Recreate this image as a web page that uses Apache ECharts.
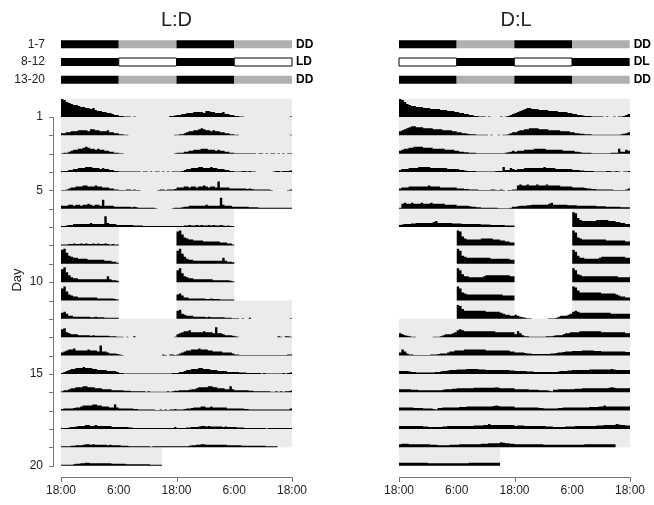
<!DOCTYPE html>
<html><head><meta charset="utf-8">
<script src="https://cdn.jsdelivr.net/npm/echarts@6/dist/echarts.min.js"></script>
<style>html,body{margin:0;padding:0;background:#fff}#c{width:654px;height:505px}</style>
</head><body><div id="c"></div>
<script>
const _ = null;
const hourTicks = [0, 12, 24, 36, 48];
const hourTickLabels = ['18:00', '6:00', '18:00', '6:00', '18:00'];
const hourMajorTicks = [0, 24, 48];
const dayTickLabels = [1, 5, 10, 15, 20];
const scheduleRowLabels = ['1-7', '8-12', '13-20'];
const scheduleCodesLD = ['DD', 'LD', 'DD'];
const scheduleCodesDL = ['DD', 'DL', 'DD'];
// 12-h blocks from 18:00: 0 = dark, 1 = subjective day in constant darkness, 2 = light
const scheduleLD = [[0, 1, 0, 1], [0, 2, 0, 2], [0, 1, 0, 1]];
const scheduleDL = [[0, 1, 0, 1], [2, 0, 2, 0], [0, 1, 0, 1]];
// shaded (dark) intervals per double-plotted row, hours after 18:00 (0-48)
const shadeLD = [
  [[0,48]],[[0,48]],[[0,48]],[[0,48]],[[0,48]],[[0,48]],
  [[0,36]],
  [[0,12],[24,36]],[[0,12],[24,36]],[[0,12],[24,36]],[[0,12],[24,36]],
  [[0,12],[24,48]],
  [[0,48]],[[0,48]],[[0,48]],[[0,48]],[[0,48]],[[0,48]],[[0,48]],
  [[0,21]]
];
const shadeDL = [
  [[0,48]],[[0,48]],[[0,48]],[[0,48]],[[0,48]],[[0,48]],
  [[0,24],[36,48]],
  [[12,24],[36,48]],[[12,24],[36,48]],[[12,24],[36,48]],[[12,24],[36,48]],[[12,24],[36,48]],
  [[0,48]],[[0,48]],[[0,48]],[[0,48]],[[0,48]],[[0,48]],[[0,48]],
  [[0,21]]
];
// activity per day: 48 half-hour bins from 18:00 (null = light phase / not recorded)
const activityLD = [
  [18,17,15,14,13,12,12,11, 10,10,9,9,8,9,7,6, 6,5,5,4,4,3,2,2, 1,1,0.5,0.5,0.5,0,0.5,0, 0,0,0,0,0,0,0,0, 0,0,0,0,0,1,1,1.5],
  [2,2,3,3,4,4,4,5, 5,5,5,4,6,6,5,5, 4,4,4,5,3,3,2,2, 1,1,0.5,0.5,0,0,0,0, 0,0,0,0,0,0,0,0, 0,0,0,0,0,0,0,0.5],
  [0.5,1,1,2,3,4,4,5, 5,6,7,6,5,5,4,5, 4,4,3,3,2,2,1,1, 0.5,0.5,0,0,0,0,0,0, 0,0,0,0,0,0,0,0, 0,0,0,0,0,0,0,0.5],
  [1,1,1,2,2,3,3,4, 4,4,5,5,5,4,4,4, 3,4,3,3,2,2,1,1, 0.5,0.5,0.5,0.5,0.5,0.5,0.5,0.5, 0.5,0,0.5,0.5,0,0.5,0,0.5, 0.5,0,0.5,0,0.5,0,0.5,0.5],
  [0.5,0.5,1,2,3,3,4,4, 4,5,5,4,4,4,5,4, 4,3,3,3,2,2,1,1, 0.5,0.5,0.5,1,1,0.5,1,0.5, 0.5,0,0,0,0,0,0,0, 0.5,1,1,0.5,1,1,1,1.5],
  [3,3,3,4,4,3,4,4, 3,4,4,5,4,3,4,4, 3,9,3,3,3,3,2,2, 2,2,2,2,2,1.5,2,1.5, 1,1,1,1,1,1,1,0.5, 0,0,0,0,0,0,0.5,1],
  [1,1,1.5,2,2,3,3,3, 3,3,3,3,4,3,3,3, 3,3,11,4,3,3,3,2, 2,2,2,2,2,2,1.5,1.5, 1.5,1.5,1,1,1,1,1,1, 1,1,1,1,1,1,1,1],
  [1,1,1,1.5,1.5,2,1.5,1.5, 2,1.5,2,1.5,1.5,2,1.5,2, 1.5,1.5,2,1.5,1,1.5,1,1, _,_,_,_,_,_,_,_, _,_,_,_,_,_,_,_, _,_,_,_,_,_,_,_],
  [14,15,11,8,7,6,6,5, 5,5,5,4,4,4,4,4, 4,4,3,3,3,2,2,1, _,_,_,_,_,_,_,_, _,_,_,_,_,_,_,_, _,_,_,_,_,_,_,_],
  [13,15,10,7,5,4,4,3, 3,3,3,3,3,3,3,3, 3,3,3,6,3,2,2,1.5, _,_,_,_,_,_,_,_, _,_,_,_,_,_,_,_, _,_,_,_,_,_,_,_],
  [12,14,9,6,5,4,4,3, 3,3,3,3,3,3,3,2, 2,2,2,2,2,2,1.5,1, _,_,_,_,_,_,_,_, _,_,_,_,_,_,_,_, _,_,_,_,_,_,_,_],
  [6,7,5,3,3,2,2,2, 2,2,2,2,1.5,1.5,2,1.5, 1.5,1.5,1,1,1,1,1,1, _,_,_,_,_,_,_,_, _,_,_,_,_,_,_,_, _,_,_,_,_,_,_,_],
  [8,9,5,4,3,3,3,2, 2,2,2,2,1.5,2,1.5,1.5, 1.5,1.5,1.5,1.5,1,1,1,0.5, 0.5,0.5,0,0.5,0,0,1,0, 0,0,0,0,0,0,0,0, 0,0,0,0,0,0,0,0.5],
  [3,4,5,6,6,7,5,5, 5,5,5,6,5,5,5,4, 10,4,4,3,2,2,2,1.5, 1,0.5,0,0,0,0,0,0, 0,0,0,0,0,0,0,0, 0,0,1,0.5,0,1,1,0.5],
  [1,2,3,4,5,5,6,6, 6,7,6,6,6,5,5,4, 4,4,4,3,3,3,3,2, 1,1,0.5,0.5,0.5,0.5,0.5,0.5, 0.5,0.5,0.5,0.5,0.5,0.5,0.5,0.5, 0.5,0.5,0.5,0.5,0.5,0.5,1,1],
  [1,2,2,3,4,4,5,5, 5,6,6,5,5,5,4,4, 4,3,3,3,3,2,2,2, 2,2,1.5,1.5,1.5,1,1,1, 1,1,1,0.5,1,0.5,0.5,0.5, 0.5,0.5,0.5,0.5,1,0.5,1,1.5],
  [1.5,2,2,2,2,2.5,3,3, 4,5,5,5,5,6,6,5, 5,4,4,4,3,3,6,3, 2,2,2,2,2,2,1.5,1.5, 1,1,1,1,1,1,1,0.5, 0.5,1,0.5,1,0.5,1,1,1.5],
  [1,1,1,1.5,2,2,2.5,3, 3,3,4,4,3,3,4,3, 3,3,3,3,3,2,2,2, 2,2,2,2,1.5,1.5,1,1, 1,1,1,1,1,1,1,1, 1,1,1,1,1,1,1,2],
  [1,1,1,1,1.5,1.5,2,2, 2,2.5,3,3,2.5,3,2.5,2.5, 2.5,2.5,2.5,2,2.5,2,2,2, 2,1.5,1.5,1.5,1,1,1,1, 1,1,1,1,1,0.5,1,1, 1,1,1,1,1,1,1,1],
  [1,1,1,1,1,1.5,2,2, 2.5,2.5,3,3,2.5,2.5,2.5,2.5, 2.5,2.5,2.5,2.5,2.5,2,2,2, 2,2,2,1.5,1.5,1.5,1.5,1.5, 1.5,1.5,1.5,1.5,1.5,1,1,1, 1,1,_,_,_,_,_,_]
];
const activityDL = [
  [18,17,15,13,12,11,11,10, 10,10,9,9,9,8,8,8, 8,7,7,7,6,6,6,5, 5,4,4,3,3,2,2,1, 1,0.5,0.5,0.5,0,0.5,0,0, 0,0,0.5,0,0.5,1,2,3],
  [4,5,6,7,8,9,9,8, 8,8,7,7,7,7,6,6, 6,6,5,5,5,5,4,4, 3,3,2,2,1.5,1,1,1, 0.5,0.5,0.5,0.5,0.5,0,0.5,0, 0,0.5,0,0.5,0.5,1,2,3],
  [3,4,5,5,6,6,7,7, 7,7,6,6,6,6,5,5, 5,5,5,4,4,4,4,3, 3,2,2,1.5,1.5,1,1,1, 0.5,0.5,0.5,0.5,0.5,0.5,0.5,0.5, 0.5,0.5,0.5,0.5,1,1.5,2,3],
  [2,3,3,3,4,4,4,4, 5,5,5,5,5,4,4,4, 4,4,4,4,3,3,3,3, 3,2,2,1.5,1,1,1,1, 0.5,0.5,0.5,0.5,0.5,0.5,0.5,0.5, 1,1,1,5,2,2,4,3],
  [2,3,3,3,4,4,4,4, 4,4,4,4,5,4,4,4, 4,3,3,3,3,3,3,3, 2,2,2,1.5,1.5,1,1,1, 1,0.5,0.5,0.5,0.5,0.5,1,1, 0.5,0.5,1,0.5,0,0.5,0.5,1],
  [1,5,6,5,5,6,5,5, 5,6,5,5,5,6,5,5, 5,5,5,4,4,4,4,4, 3,3,3,3,3,2.5,2,2, 1.5,1.5,1,1,1,1,1,1, 1,0.5,0.5,0.5,0.5,0.5,1,2],
  [2,2.5,3,3,3,3.5,3.5,4, 4,4,4,4,4,4,5,6, 4,4,4,4,4,4,3.5,3.5, 3.5,3.5,3,3,3,3,3,3, 3,3,2.5,2.5,2.5,2.5,2,2, 2,2,2,2,1.5,1.5,1.5,1.5],
  [_,_,_,_,_,_,_,_, _,_,_,_,_,_,_,_, _,_,_,_,_,_,_,_, 15,14,9,7,6,6,6,6, 6,6,7,7,7,7,7,6, 6,6,5,5,4,4,3,3],
  [_,_,_,_,_,_,_,_, _,_,_,_,_,_,_,_, _,_,_,_,_,_,_,_, 15,13,8,7,6,6,6,6, 6,6,6,6,6,6,5,5, 5,5,5,5,5,5,4,4],
  [_,_,_,_,_,_,_,_, _,_,_,_,_,_,_,_, _,_,_,_,_,_,_,_, 14,12,8,6,6,5,5,5, 5,5,5,6,7,7,7,7, 7,7,7,7,7,7,6,6],
  [_,_,_,_,_,_,_,_, _,_,_,_,_,_,_,_, _,_,_,_,_,_,_,_, 14,12,8,7,6,6,6,6, 6,6,6,6,6,6,6,6, 6,6,6,5,5,5,5,5],
  [_,_,_,_,_,_,_,_, _,_,_,_,_,_,_,_, _,_,_,_,_,_,_,_, 14,13,10,8,8,8,8,8, 8,8,8,8,7,7,7,7, 7,7,6,5,4,4,3,3],
  [4,3,2,1.5,1,0.5,0.5,0, 0,0,0,0,0,0,0.5,0.5, 0.5,1,2,3,3,3,4,5, 7,8,7,6,6,6,6,6, 6,6,6,6,6,6,6,6, 5,5,5,5,5,5,5,5],
  [3,6,4,2,1,1,0.5,0.5, 0.5,0.5,0.5,0.5,0.5,1,1,1, 1.5,2,2,2,3,4,4,5, 5,5,5,6,6,6,6,6, 6,6,6,6,5,5,5,5, 5,5,5,5,5,5,4,4],
  [3,3,3,3,2.5,2,2,1.5, 1.5,1.5,1.5,1.5,1.5,1.5,1.5,2, 2,2.5,3,3,3.5,4,4,4, 4.5,4.5,4.5,4.5,5,5,5,5, 5,4.5,4.5,4.5,4,4,4,4, 4,4,4,4,4,4,3.5,3.5],
  [3,3,3,3,3,2.5,2.5,2.5, 2,2,2,2,2,2,2,2, 2,2,2.5,3,3,3,3.5,3.5, 4,4,4,4,4,4,4,4.5, 4.5,4.5,4.5,4.5,4.5,4.5,4.5,4.5, 5,4.5,4,4,4,4,4,4],
  [3,3,3,3,3,3,2.5,2.5, 2.5,2.5,2,2,2,2,1.5,1, 2.5,2.5,3,3,3,3,3,3, 3,3.5,3.5,3.5,4,4,4,4, 4,4,4,4,4,4,4,4.5, 5,4.5,4,4,4,4,4,4],
  [3,3,3,3,3,3,3,3, 3,3,2.5,2.5,2,2,2,2, 2,2,2.5,2.5,3,3,3,3, 3,3,3,3,3,3,3,3.5, 3.5,3.5,3.5,4,4,5,4,4, 4,4,4,4,4,4,4,4],
  [3,3.5,3.5,3.5,3,3,3,3, 3,3,3,3,3,2.5,2.5,2.5, 2,2,2,2,2,2.5,2.5,2.5, 2.5,3,3,3,3,3,3,3, 3,3,3.5,3.5,3.5,4,4,4, 4,4,5,4.5,4,4,3.5,3.5],
  [3,3,3,3,3,3,3,3, 3,3,3,3,2.5,2.5,2.5,2.5, 2.5,2.5,2.5,2.5,2.5,2.5,2.5,2.5, 2.5,2.5,2.5,2.5,2.5,3,3,3, 3,3,3,3,3,3,3,3, 3,3,_,_,_,_,_,_]
];

const FONT = '"Liberation Sans", Arial, sans-serif';
const ACT = 1 / 18.4;      // activity units -> fraction of a row
const AX = '#777777';
const FIRST_DAY = 1, LAST_DAY = activityLD.length;

function bgData(shade) {
  const out = [];
  shade.forEach((segs, i) => segs.forEach(s => out.push([s[0], s[1], i + 1])));
  return out;
}
function buildRuns(act) {
  const out = [];
  for (let r = 1; r <= act.length; r++) {
    const next = r < act.length ? act[r] : act[0].map(() => null);
    const row = act[r - 1].concat(next);
    let cur = null;
    row.forEach((v, i) => {
      if (v == null) { if (cur) { out.push(cur); cur = null; } }
      else { if (!cur) cur = { row: r, start: i, vals: [] }; cur.vals.push(v); }
    });
    if (cur) out.push(cur);
  }
  return out;
}
function schedData(sched) {
  const out = [];
  sched.forEach((blocks, i) => blocks.forEach((st, j) => out.push([j * 12, j * 12 + 12, i, st])));
  return out;
}
const runsLD = buildRuns(activityLD), runsDL = buildRuns(activityDL);

function bgRender(params, api) {
  const p0 = api.coord([api.value(0), api.value(2) - 1]);
  const p1 = api.coord([api.value(1), api.value(2)]);
  return { type: 'rect', shape: { x: p0[0], y: p0[1], width: p1[0] - p0[0], height: p1[1] - p0[1] }, style: { fill: '#ebebeb' } };
}
function actRender(list) {
  return function (params, api) {
    const o = list[params.dataIndex];
    const pts = [api.coord([o.start * 0.5, o.row])];
    o.vals.forEach((v, k) => {
      const h0 = (o.start + k) * 0.5, h1 = h0 + 0.5, y = o.row - v * ACT;
      pts.push(api.coord([h0, y])); pts.push(api.coord([h1, y]));
    });
    pts.push(api.coord([(o.start + o.vals.length) * 0.5, o.row]));
    return { type: 'polygon', shape: { points: pts }, style: { fill: '#000' } };
  };
}
function schedRender(params, api) {
  const c0 = api.coord([api.value(0), api.value(2)]);
  const c1 = api.coord([api.value(1), api.value(2)]);
  const st = api.value(3), h = 8;
  const style = st === 0 ? { fill: '#000' } : st === 1 ? { fill: '#b0b0b0' } : { fill: '#fff', stroke: '#000', lineWidth: 1 };
  return { type: 'rect', shape: { x: c0[0], y: c0[1] - h / 2, width: c1[0] - c0[0], height: h }, style };
}
// axis lines drawn as thin filled rects, offset from the plot like the original figure
function yLineRender(params, api) {
  const a = api.coord([0, FIRST_DAY]), b = api.coord([0, LAST_DAY]);
  const x = Math.round(a[0]) - 8;
  const children = [{ type: 'rect', shape: { x: x, y: Math.round(a[1]), width: 1, height: Math.round(b[1]) - Math.round(a[1]) + 1 }, style: { fill: AX } }];
  for (let d = FIRST_DAY; d <= LAST_DAY; d++) {
    const p = api.coord([0, d]);
    children.push({ type: 'rect', shape: { x: x - 4, y: Math.round(p[1]), width: 4, height: 1 }, style: { fill: AX } });
  }
  return { type: 'group', children };
}
function xLineRender(params, api) {
  const a = api.coord([hourTicks[0], LAST_DAY]), b = api.coord([hourTicks[hourTicks.length - 1], LAST_DAY]);
  const y = Math.round(a[1]) + 11;
  const children = [{ type: 'rect', shape: { x: Math.round(a[0]), y: y, width: Math.round(b[0]) - Math.round(a[0]) + 1, height: 1 }, style: { fill: AX } }];
  hourMajorTicks.forEach(h => {
    const p = api.coord([h, LAST_DAY]);
    children.push({ type: 'rect', shape: { x: Math.round(p[0]), y: y, width: 1, height: 5 }, style: { fill: AX } });
  });
  return { type: 'group', children };
}

function labelX(grid) {
  return {
    gridIndex: grid, type: 'value', min: 0, max: 48, interval: 12, position: 'bottom', offset: 11,
    axisLine: { show: false }, axisTick: { show: false },
    axisLabel: { margin: 8, fontSize: 12, color: '#222', fontFamily: FONT,
      formatter: v => hourTickLabels[hourTicks.indexOf(v)] },
    splitLine: { show: false }
  };
}
const hiddenX = g => ({ gridIndex: g, type: 'value', min: 0, max: 48, show: false, splitLine: { show: false } });
const hiddenY = g => ({ gridIndex: g, type: 'value', min: 1, max: 20, inverse: true, show: false, splitLine: { show: false } });

const chart = echarts.init(document.getElementById('c'), null, { renderer: 'canvas' });
chart.setOption({
  animation: false,
  backgroundColor: '#fff',
  grid: [
    { left: 61, top: 117, width: 231, height: 348.65 },
    { left: 399, top: 117, width: 231, height: 348.65 },
    { left: 61, top: 35.5, width: 231, height: 53 },
    { left: 399, top: 35.5, width: 231, height: 53 }
  ],
  xAxis: [labelX(0), labelX(1), hiddenX(2), hiddenX(3)],
  yAxis: [
    { gridIndex: 0, type: 'value', min: 1, max: 20, interval: 1, inverse: true, offset: 8,
      axisLine: { show: false }, axisTick: { show: false },
      axisLabel: { margin: 10, fontSize: 12, color: '#222', fontFamily: FONT,
        formatter: v => dayTickLabels.indexOf(v) >= 0 ? String(v) : '' },
      splitLine: { show: false } },
    hiddenY(1),
    { gridIndex: 2, type: 'category', data: scheduleRowLabels, inverse: true, position: 'left',
      axisLine: { show: false }, axisTick: { show: false },
      axisLabel: { margin: 16, fontSize: 12, color: '#222', fontFamily: FONT } },
    { gridIndex: 2, type: 'category', data: scheduleRowLabels, inverse: true, position: 'right',
      axisLine: { show: false }, axisTick: { show: false },
      axisLabel: { margin: 4, fontSize: 12, fontWeight: 'bold', color: '#000', fontFamily: FONT,
        formatter: (v, i) => scheduleCodesLD[i] } },
    { gridIndex: 3, type: 'category', data: scheduleRowLabels, inverse: true, position: 'right',
      axisLine: { show: false }, axisTick: { show: false },
      axisLabel: { margin: 4, fontSize: 12, fontWeight: 'bold', color: '#000', fontFamily: FONT,
        formatter: (v, i) => scheduleCodesDL[i] } }
  ],
  graphic: [
    { type: 'text', x: 176.5, y: 20, style: { text: 'L:D', font: '20px ' + FONT, fill: '#222', align: 'center', verticalAlign: 'middle' } },
    { type: 'text', x: 516, y: 20, style: { text: 'D:L', font: '20px ' + FONT, fill: '#222', align: 'center', verticalAlign: 'middle' } },
    { type: 'text', x: 17, y: 280, rotation: Math.PI / 2, style: { text: 'Day', font: '13px ' + FONT, fill: '#222', align: 'center', verticalAlign: 'middle' } }
  ],
  series: [
    { type: 'custom', xAxisIndex: 0, yAxisIndex: 0, clip: false, z: 1, data: bgData(shadeLD), encode: { x: [0, 1], y: 2 }, renderItem: bgRender, silent: true },
    { type: 'custom', xAxisIndex: 1, yAxisIndex: 1, clip: false, z: 1, data: bgData(shadeDL), encode: { x: [0, 1], y: 2 }, renderItem: bgRender, silent: true },
    { type: 'custom', xAxisIndex: 0, yAxisIndex: 0, clip: false, z: 2, data: runsLD.map(o => [o.start * 0.5, (o.start + o.vals.length) * 0.5, o.row]), encode: { x: [0, 1], y: 2 }, renderItem: actRender(runsLD), silent: true },
    { type: 'custom', xAxisIndex: 1, yAxisIndex: 1, clip: false, z: 2, data: runsDL.map(o => [o.start * 0.5, (o.start + o.vals.length) * 0.5, o.row]), encode: { x: [0, 1], y: 2 }, renderItem: actRender(runsDL), silent: true },
    { type: 'custom', xAxisIndex: 2, yAxisIndex: 2, clip: false, data: schedData(scheduleLD), encode: { x: [0, 1], y: 2 }, renderItem: schedRender, silent: true },
    { type: 'custom', xAxisIndex: 3, yAxisIndex: 4, clip: false, data: schedData(scheduleDL), encode: { x: [0, 1], y: 2 }, renderItem: schedRender, silent: true },
    { type: 'custom', xAxisIndex: 0, yAxisIndex: 0, clip: false, z: 3, data: [[0, FIRST_DAY]], encode: { x: 0, y: 1 }, renderItem: yLineRender, silent: true },
    { type: 'custom', xAxisIndex: 0, yAxisIndex: 0, clip: false, z: 3, data: [[0, LAST_DAY]], encode: { x: 0, y: 1 }, renderItem: xLineRender, silent: true },
    { type: 'custom', xAxisIndex: 1, yAxisIndex: 1, clip: false, z: 3, data: [[0, LAST_DAY]], encode: { x: 0, y: 1 }, renderItem: xLineRender, silent: true }
  ]
});
</script></body></html>
